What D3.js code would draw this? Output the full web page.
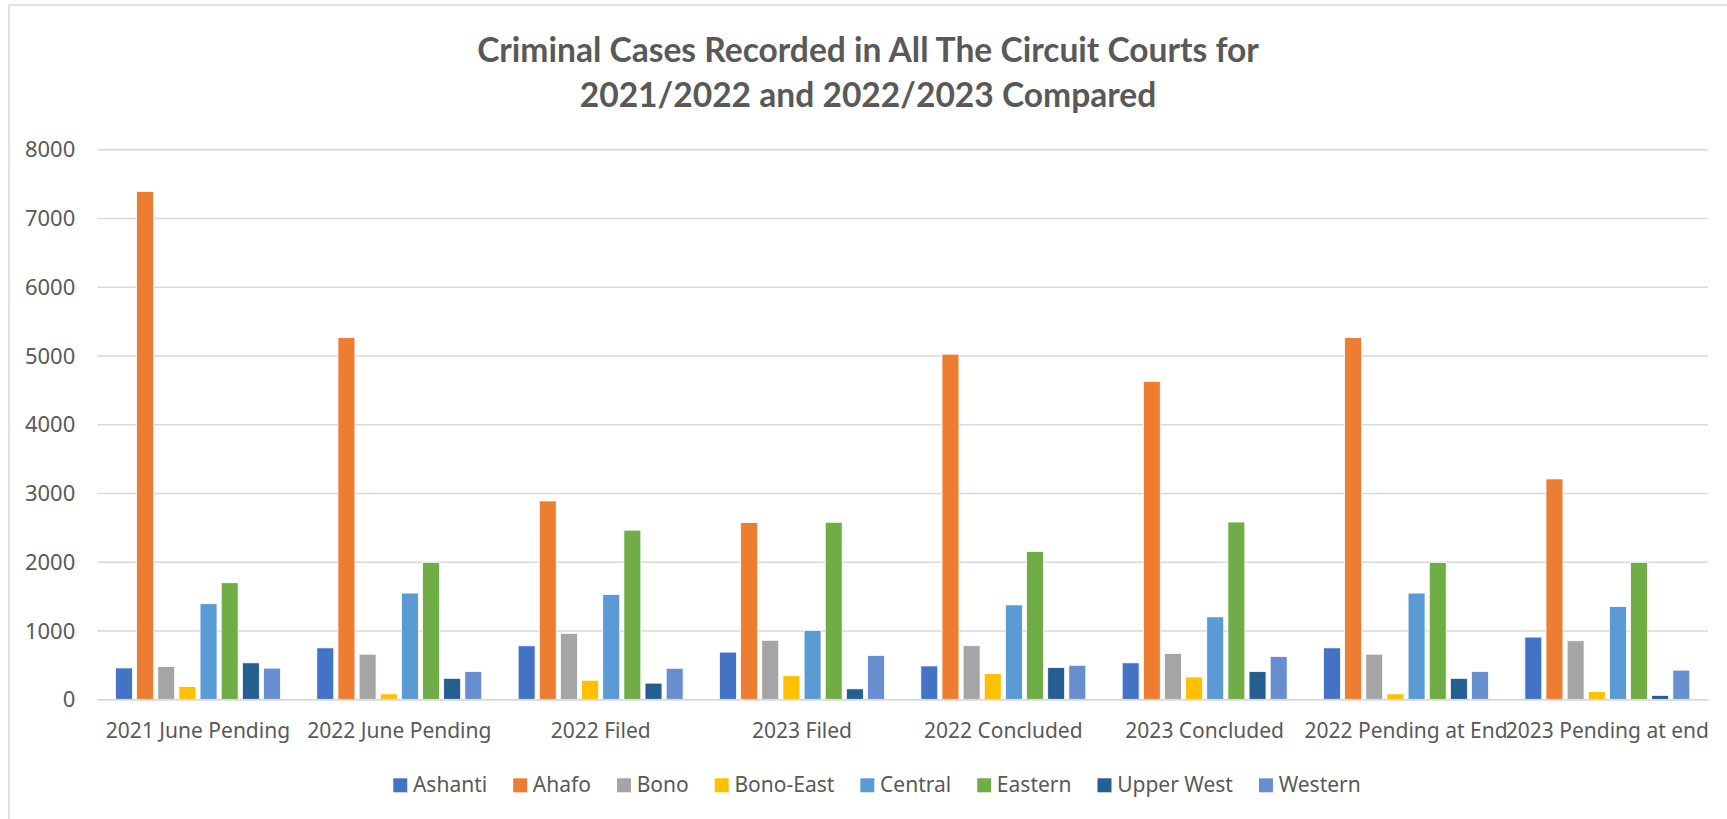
<!DOCTYPE html>
<html>
<head>
<meta charset="utf-8">
<script src="https://cdn.jsdelivr.net/npm/d3@7"></script>
<style>
  html, body { margin: 0; padding: 0; background: #fff; }
  svg { display: block; }
</style>
</head>
<body>
<div id="chart"></div>
<script>
const categories = ["2021 June Pending", "2022 June Pending", "2022 Filed", "2023 Filed",
  "2022 Concluded", "2023 Concluded", "2022 Pending at End", "2023 Pending at end"];
const seriesNames = ["Ashanti", "Ahafo", "Bono", "Bono-East", "Central", "Eastern", "Upper West", "Western"];
const ashanti   = [456, 748, 778, 686, 485, 530, 748, 905];
const ahafo     = [7385, 5260, 2885, 2570, 5020, 4625, 5260, 3205];
const bono      = [478, 656, 958, 858, 779, 665, 656, 851];
const bonoEast  = [187, 79, 277, 343, 373, 324, 79, 112];
const central   = [1390, 1545, 1525, 1003, 1373, 1199, 1545, 1348];
const eastern   = [1695, 1990, 2460, 2575, 2150, 2578, 1990, 1990];
const upperWest = [530, 305, 235, 152, 461, 402, 305, 56];
const western   = [453, 404, 451, 637, 495, 623, 404, 424];
const yTicks = [0, 1000, 2000, 3000, 4000, 5000, 6000, 7000, 8000];
const titleLines = ["Criminal Cases Recorded in All The Circuit Courts for", "2021/2022 and 2022/2023 Compared"];
const colors = ["#4472C4", "#ED7D31", "#A5A5A5", "#FFC000", "#5B9BD5", "#70AD47", "#255E91", "#698ED0"];

const seriesValues = [ashanti, ahafo, bono, bonoEast, central, eastern, upperWest, western];
const table = categories.map((c, i) => {
  const row = { category: c };
  seriesNames.forEach((s, j) => row[s] = seriesValues[j][i]);
  return row;
});

const W = 1727, H = 819;
const plot = { left: 97.3, right: 1708, top: 149.3, bottom: 699.3 };
const textColor = "#595959";
const gridColor = "#D9D9D9";
const font = "'Noto Sans', 'Open Sans', sans-serif";

const svg = d3.select("#chart").append("svg").attr("width", W).attr("height", H);

// chart frame
svg.append("rect").attr("x", 9).attr("y", 5).attr("width", W + 20).attr("height", H + 20)
  .attr("fill", "#fff").attr("stroke", gridColor).attr("stroke-width", 1.5);

const x0 = d3.scaleBand().domain(categories).range([plot.left, plot.right]).paddingInner(0).paddingOuter(0);
const groupPad = 18.2;
const x1 = d3.scaleBand().domain(seriesNames).range([groupPad, x0.bandwidth() - groupPad]).paddingInner(0.2).paddingOuter(0);
const y = d3.scaleLinear().domain([0, 8000]).range([plot.bottom, plot.top]);
const color = d3.scaleOrdinal().domain(seriesNames).range(colors);

// gridlines + y axis labels
const yAxis = d3.axisLeft(y).tickValues(yTicks).tickSize(-(plot.right - plot.left)).tickPadding(22).tickFormat(d3.format("d"));
const gy = svg.append("g").attr("transform", `translate(${plot.left},0)`).call(yAxis);
gy.select(".domain").remove();
gy.selectAll(".tick line").attr("stroke", gridColor).attr("stroke-width", 1.5);
gy.selectAll(".tick text").attr("fill", textColor).attr("font-family", font).attr("font-size", 22).attr("dy", "0.34em");

// bars
const groups = svg.append("g").selectAll("g").data(table).join("g")
  .attr("transform", d => `translate(${x0(d.category)},0)`);
groups.selectAll("rect").data(d => seriesNames.map(s => ({ key: s, value: d[s] }))).join("rect")
  .attr("x", d => x1(d.key))
  .attr("width", x1.bandwidth())
  .attr("y", d => y(d.value))
  .attr("height", d => y(0) - y(d.value))
  .attr("fill", d => color(d.key))
  .attr("stroke", "#fff").attr("stroke-width", 0.75);

// x axis
const xAxis = d3.axisBottom(x0).tickSize(0).tickPadding(0);
const gx = svg.append("g").attr("transform", `translate(0,${plot.bottom})`).call(xAxis);
gx.select(".domain").attr("stroke", gridColor).attr("stroke-width", 1.5);
gx.selectAll(".tick text").attr("fill", textColor).attr("font-family", font).attr("font-size", 21)
  .attr("dy", null).attr("y", 39);

// title
const title = svg.append("g");
const tl = title.selectAll("text").data(titleLines).join("text")
  .attr("x", 868).attr("y", (d, i) => 61.7 + i * 45)
  .attr("text-anchor", "middle")
  .attr("fill", textColor).attr("font-family", "Lato, 'Open Sans', sans-serif")
  .attr("font-weight", "bold").attr("font-size", 31)
  .text(d => d);
const w0 = tl.nodes()[0].getComputedTextLength();
tl.attr("font-size", 31 * 782 / w0);

// legend
const legend = svg.append("g");
const items = legend.selectAll("g").data(seriesNames).join("g");
items.append("rect").attr("width", 14).attr("height", 14).attr("y", 778.3).attr("fill", d => color(d));
items.append("text").attr("x", 19.7).attr("y", 792).attr("fill", textColor)
  .attr("font-family", font).attr("font-size", 21).text(d => d);
const gap = 26;
let cx = 0;
const offsets = [];
items.each(function () {
  const tw = d3.select(this).select("text").node().getComputedTextLength();
  offsets.push(cx);
  cx += 19.7 + tw + gap;
});
const total = cx - gap;
const startX = 877 - total / 2;
items.attr("transform", (d, i) => `translate(${startX + offsets[i]},0)`);
</script>
</body>
</html>
